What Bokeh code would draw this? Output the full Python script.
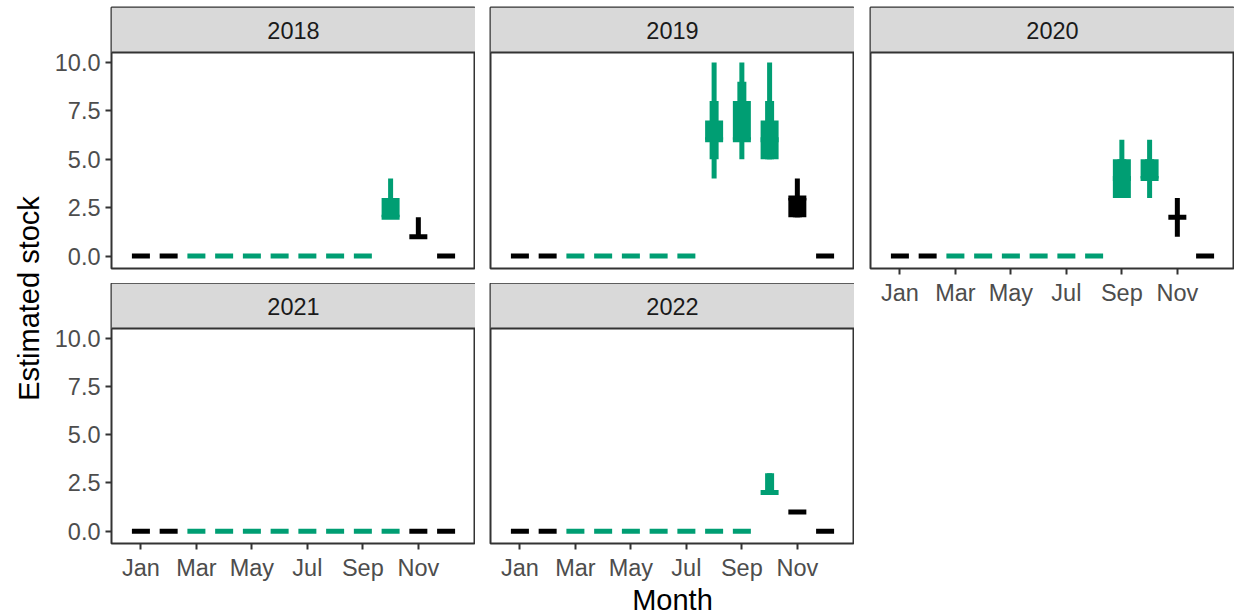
import math
from bokeh.plotting import figure
from bokeh.layouts import row, column
from bokeh.models import (Range1d, FixedTicker, ColumnDataSource, PrintfTickFormatter,
                          BoxAnnotation, Span, Label)
from bokeh.core.properties import value
from bokeh.embed import file_html
from bokeh.resources import INLINE

# ---------------- data ----------------
years = [2018, 2019, 2020, 2021, 2022]
months = [1, 2, 3, 4, 5, 6, 7, 8, 9, 10, 11, 12]
month_labels = ["Jan", "Feb", "Mar", "Apr", "May", "Jun",
                "Jul", "Aug", "Sep", "Oct", "Nov", "Dec"]
tick_months = [1, 3, 5, 7, 9, 11]
y_ticks = [0, 2.5, 5, 7.5, 10]
in_season = [False, False, True, True, True, True,
             True, True, True, True, False, False]

# median estimate
median = {
    2018: [0, 0, 0, 0, 0, 0, 0, 0, 0, 2, 1, 0],
    2019: [0, 0, 0, 0, 0, 0, 0, 6, 6, 6, 3, 0],
    2020: [0, 0, 0, 0, 0, 0, 0, 0, 4, 4, 2, 0],
    2021: [0, 0, 0, 0, 0, 0, 0, 0, 0, 0, 0, 0],
    2022: [0, 0, 0, 0, 0, 0, 0, 0, 0, 2, 1, 0],
}
# 95% interval
lo95 = {
    2018: [0, 0, 0, 0, 0, 0, 0, 0, 0, 2, 1, 0],
    2019: [0, 0, 0, 0, 0, 0, 0, 4, 5, 5, 2, 0],
    2020: [0, 0, 0, 0, 0, 0, 0, 0, 3, 3, 1, 0],
    2021: [0, 0, 0, 0, 0, 0, 0, 0, 0, 0, 0, 0],
    2022: [0, 0, 0, 0, 0, 0, 0, 0, 0, 2, 1, 0],
}
hi95 = {
    2018: [0, 0, 0, 0, 0, 0, 0, 0, 0, 4, 2, 0],
    2019: [0, 0, 0, 0, 0, 0, 0, 10, 10, 10, 4, 0],
    2020: [0, 0, 0, 0, 0, 0, 0, 0, 6, 6, 3, 0],
    2021: [0, 0, 0, 0, 0, 0, 0, 0, 0, 0, 0, 0],
    2022: [0, 0, 0, 0, 0, 0, 0, 0, 0, 3, 1, 0],
}
# 80% interval
lo80 = {
    2018: [0, 0, 0, 0, 0, 0, 0, 0, 0, 2, 1, 0],
    2019: [0, 0, 0, 0, 0, 0, 0, 5, 6, 5, 2, 0],
    2020: [0, 0, 0, 0, 0, 0, 0, 0, 3, 4, 2, 0],
    2021: [0, 0, 0, 0, 0, 0, 0, 0, 0, 0, 0, 0],
    2022: [0, 0, 0, 0, 0, 0, 0, 0, 0, 2, 1, 0],
}
hi80 = {
    2018: [0, 0, 0, 0, 0, 0, 0, 0, 0, 3, 1, 0],
    2019: [0, 0, 0, 0, 0, 0, 0, 8, 9, 8, 3, 0],
    2020: [0, 0, 0, 0, 0, 0, 0, 0, 5, 5, 2, 0],
    2021: [0, 0, 0, 0, 0, 0, 0, 0, 0, 0, 0, 0],
    2022: [0, 0, 0, 0, 0, 0, 0, 0, 0, 3, 1, 0],
}
# 50% interval
lo50 = {
    2018: [0, 0, 0, 0, 0, 0, 0, 0, 0, 2, 1, 0],
    2019: [0, 0, 0, 0, 0, 0, 0, 6, 6, 5, 2, 0],
    2020: [0, 0, 0, 0, 0, 0, 0, 0, 3, 4, 2, 0],
    2021: [0, 0, 0, 0, 0, 0, 0, 0, 0, 0, 0, 0],
    2022: [0, 0, 0, 0, 0, 0, 0, 0, 0, 2, 1, 0],
}
hi50 = {
    2018: [0, 0, 0, 0, 0, 0, 0, 0, 0, 3, 1, 0],
    2019: [0, 0, 0, 0, 0, 0, 0, 7, 8, 7, 3, 0],
    2020: [0, 0, 0, 0, 0, 0, 0, 0, 5, 5, 2, 0],
    2021: [0, 0, 0, 0, 0, 0, 0, 0, 0, 0, 0, 0],
    2022: [0, 0, 0, 0, 0, 0, 0, 0, 0, 2, 1, 0],
}

# ---------------- style ----------------
BLACK = "#000000"
GREEN = "#009E73"
FONT = "Liberation Sans"
TICK_FS = "23.5px"
TITLE_FS = "29px"
X0, X1 = -0.06, 13.06
Y0, Y1 = -0.64, 10.51

FRAME_W = 364
PANEL_H_TOP = 216
PANEL_H_BOT = 215
STRIP_H = 45
TOP_PAD = 7
GAP = 15
TITLE_W = 50
LEFTS = [61, 15, 16]

LEVELS = [(lo95, hi95, 5), (lo80, hi80, 9), (lo50, hi50, 18)]
MEDIAN_W, MEDIAN_H = 18, 5


def style_axis(ax):
    ax.axis_line_color = None
    ax.major_tick_out = 6
    ax.major_tick_in = 0
    ax.minor_tick_out = 0
    ax.minor_tick_in = 0
    ax.major_tick_line_color = "#333333"
    ax.major_tick_line_width = 2
    ax.major_label_text_font = FONT
    ax.major_label_text_font_size = TICK_FS
    ax.major_label_text_color = "#4D4D4D"


def make_panel(year, left, panel_h, top, bottom, show_x, show_y, xlabel=None):
    strip_units = STRIP_H * (Y1 - Y0) / panel_h
    p = figure(frame_width=FRAME_W, frame_height=panel_h + STRIP_H,
               min_border_left=left, min_border_right=0,
               min_border_top=top, min_border_bottom=bottom,
               x_range=Range1d(X0, X1), y_range=Range1d(Y0, Y1 + strip_units),
               x_axis_location="below" if show_x else None,
               y_axis_location="left" if show_y else None,
               toolbar_location=None, output_backend="svg",
               background_fill_color="white", border_fill_color="white",
               outline_line_color="#333333", outline_line_width=2)
    p.grid.visible = False

    # facet strip
    p.add_layout(BoxAnnotation(bottom=Y1, fill_color="#D9D9D9", fill_alpha=1.0,
                               line_color=None, level="underlay"))
    p.add_layout(Span(location=Y1, dimension="width", line_color="#333333",
                      line_width=2))
    p.add_layout(Label(x=(X0 + X1) / 2, y=Y1 + strip_units / 2, text=str(year),
                       text_align="center", text_baseline="middle",
                       text_font=FONT, text_font_size=TICK_FS,
                       text_color="#1A1A1A"))

    cols = [GREEN if s else BLACK for s in in_season]
    for lo, hi, w in LEVELS:
        xs, ys, hs, cs = [], [], [], []
        for i, m in enumerate(months):
            a, b = lo[year][i], hi[year][i]
            if b > a:
                xs.append(m)
                ys.append((a + b) / 2)
                hs.append(b - a)
                cs.append(cols[i])
        src = ColumnDataSource(dict(x=xs, y=ys, h=hs, c=cs))
        p.rect(x="x", y="y", width=w, height="h", width_units="screen",
               fill_color="c", line_color=None, source=src)
    msrc = ColumnDataSource(dict(x=months, y=median[year], c=cols))
    p.rect(x="x", y="y", width=MEDIAN_W, height=MEDIAN_H,
           width_units="screen", height_units="screen",
           fill_color="c", line_color=None, source=msrc)

    if show_x:
        ax = p.xaxis[0]
        style_axis(ax)
        ax.ticker = FixedTicker(ticks=tick_months)
        ax.major_label_overrides = {m: month_labels[m - 1] for m in tick_months}
        ax.major_label_standoff = 5
        if xlabel:
            ax.axis_label = xlabel
            ax.axis_label_text_font = FONT
            ax.axis_label_text_font_size = TITLE_FS
            ax.axis_label_text_font_style = "normal"
            ax.axis_label_text_color = "#000000"
            ax.axis_label_standoff = 0
    if show_y:
        ay = p.yaxis[0]
        style_axis(ay)
        ay.ticker = FixedTicker(ticks=y_ticks)
        ay.formatter = PrintfTickFormatter(format="%.1f")
        ay.major_label_standoff = 5
    return p


c1 = column(
    make_panel(2018, LEFTS[0], PANEL_H_TOP, TOP_PAD, GAP, False, True),
    make_panel(2021, LEFTS[0], PANEL_H_BOT, 0, 0, True, True),
)
c2 = column(
    make_panel(2019, LEFTS[1], PANEL_H_TOP, TOP_PAD, GAP, False, False),
    make_panel(2022, LEFTS[1], PANEL_H_BOT, 0, 0, True, False, xlabel="Month"),
)
c3 = column(
    make_panel(2020, LEFTS[2], PANEL_H_TOP, TOP_PAD, 0, True, False),
)

total_h = TOP_PAD + STRIP_H + PANEL_H_TOP + GAP + STRIP_H + PANEL_H_BOT
yt = figure(frame_width=TITLE_W, frame_height=total_h,
            min_border_left=0, min_border_right=0,
            min_border_top=0, min_border_bottom=0,
            x_range=Range1d(0, TITLE_W), y_range=Range1d(total_h, 0),
            x_axis_location=None, y_axis_location=None,
            toolbar_location=None, output_backend="svg",
            outline_line_color=None, border_fill_color="white",
            background_fill_color="white")
yt.grid.visible = False
yt.text(x=[28], y=[298], text=["Estimated stock"],
        angle=math.pi / 2, text_align="center", text_baseline="middle",
        text_font=value(FONT), text_font_size=TITLE_FS, text_color="#000000")

layout = row(yt, c1, c2, c3)

open("out.html", "w").write(file_html(layout, INLINE))
